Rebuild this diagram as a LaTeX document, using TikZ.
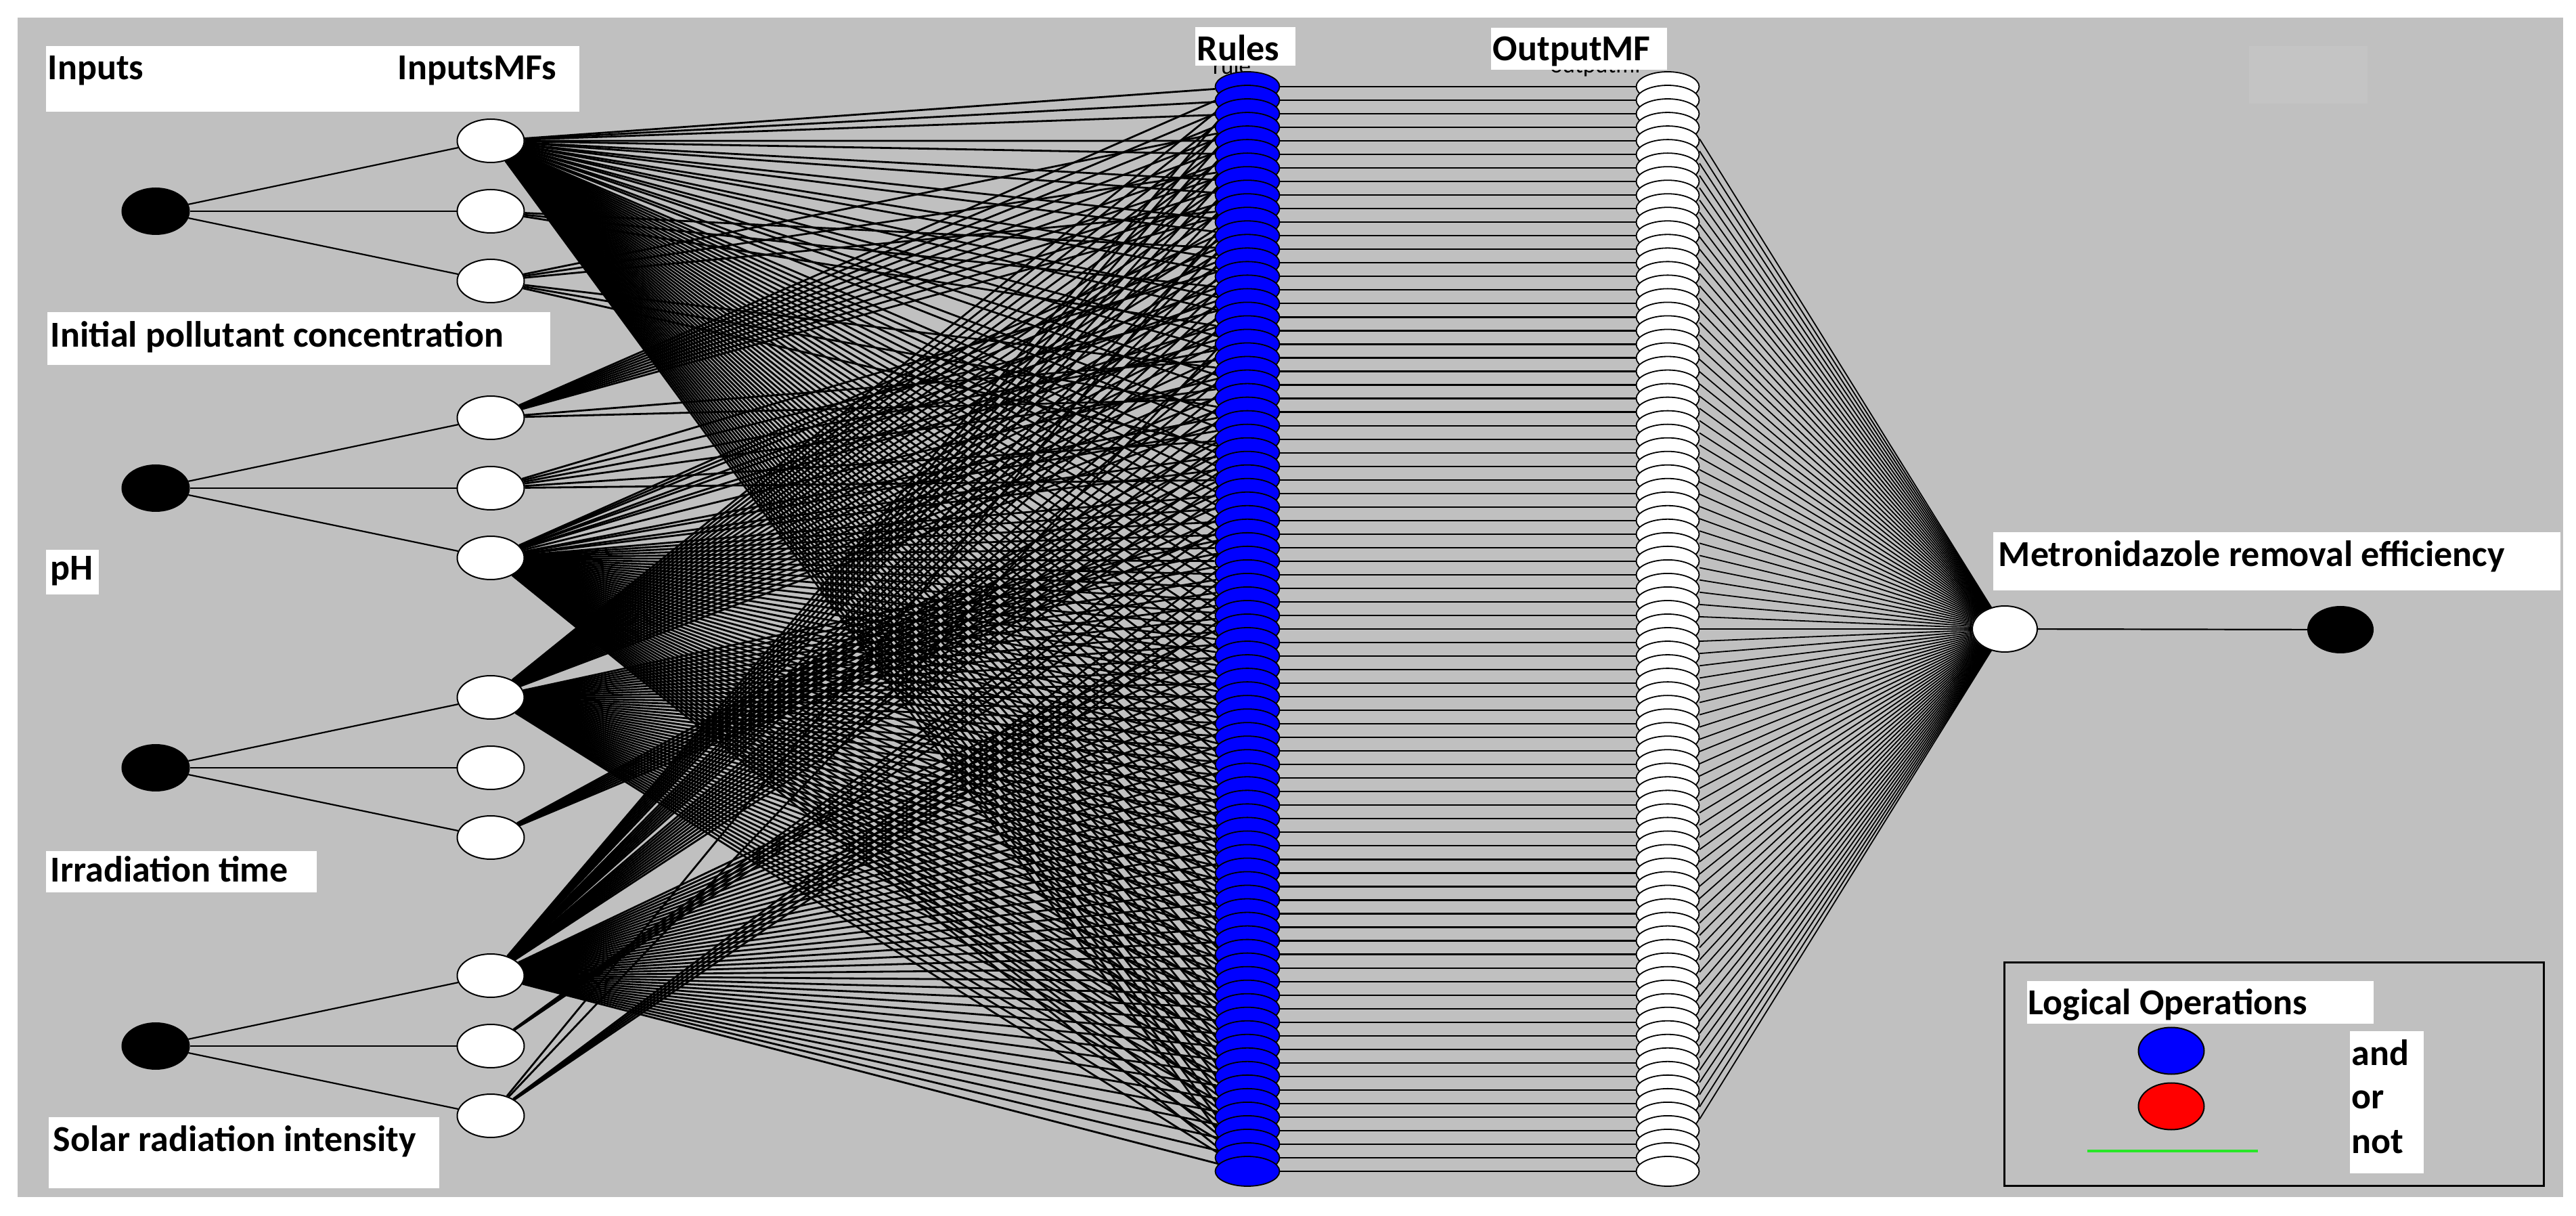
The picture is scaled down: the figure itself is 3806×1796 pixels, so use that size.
\documentclass[tikz,border=0pt]{standalone}
\usepackage{fontspec}
\setmainfont{Carlito}
\usetikzlibrary{shapes.geometric}
\definecolor{bggray}{RGB}{192,192,192}
\definecolor{faintgray}{RGB}{196,196,196}
\definecolor{rulblue}{RGB}{0,0,255}
\definecolor{orred}{RGB}{255,0,0}
\definecolor{notgreen}{RGB}{40,230,40}
\pgfdeclarelayer{back}
\pgfdeclarelayer{edges}
\pgfsetlayers{back,edges,main}
\begin{document}
\begin{tikzpicture}[x=0.25pt,y=-0.25pt,
  edge/.style={draw=black,line width=0.55pt},
  tangle/.style={draw=black,line width=0.7pt},
  innode/.style={ellipse,draw=black,fill=black,line width=0.5pt,minimum width=24.75pt,minimum height=17pt,inner sep=0pt},
  mfnode/.style={ellipse,draw=black,fill=white,line width=0.5pt,minimum width=24.75pt,minimum height=16pt,inner sep=0pt},
  rulenode/.style={ellipse,draw=black,fill=rulblue,line width=0.45pt,minimum width=23.75pt,minimum height=11pt,inner sep=0pt},
  omfnode/.style={ellipse,draw=black,fill=white,line width=0.45pt,minimum width=23.25pt,minimum height=11pt,inner sep=0pt},
  lbl/.style={anchor=base west,inner sep=0pt,font=\fontsize{13.5}{16}\selectfont\bfseries},
  frag/.style={anchor=base,inner sep=0pt,font=\fontsize{8.75}{10}\selectfont}
]
\useasboundingbox (0,0) rectangle (3806,1796);
\begin{pgfonlayer}{back}
\fill[white] (0,0) rectangle (3806,1796);
\fill[bggray] (26,26) rectangle (3787,1768);
\fill[faintgray] (3323,68) rectangle (3498,153);
\end{pgfonlayer}

% ---------- input nodes and MFs ----------
\foreach \i/\c in {1/312,2/721,3/1134,4/1545}{
  \node[innode] (in\i) at (230,\c) {};
  \node[mfnode] (m\i1) at (725,\c-104) {};
  \node[mfnode] (m\i2) at (725,\c) {};
  \node[mfnode] (m\i3) at (725,\c+103) {};
}
% ---------- rule stack ----------
\foreach \k in {0,...,80}{
  \node[rulenode] (r\k) at (1843,{128+20.025*\k}) {};
}
% ---------- output MF stack ----------
\foreach \k in {0,...,80}{
  \node[omfnode] (o\k) at (2464,{128+20.025*\k}) {};
  \coordinate (p\k) at (2511,{205+18.1*\k});
}
\node[innode,fill=white,minimum width=24pt] (out) at (2962,929) {};
\node[innode,minimum width=24pt] (fin) at (3458,930) {};

% ---------- connectors ----------
\begin{pgfonlayer}{edges}
\foreach \i in {1,2,3,4}{
  \foreach \j in {1,2,3}{ \draw[edge] (in\i) -- (m\i\j); }
}
% input 1
\foreach \k in {0,1,2,4,5,7,8,10,11,13,14,16,17,19,20,22,23,25,26}{\draw[tangle] (m11) -- (r\k);}
\foreach \k in {28,...,80}{\draw[tangle] (m11) -- (r\k);}
\foreach \k in {12,15,18}{\draw[tangle] (m12) -- (r\k);}
\foreach \k in {3,6,9,21,24,27}{\draw[tangle] (m13) -- (r\k);}
% input 2
\foreach \k in {0,...,9}{\draw[tangle] (m21) -- (r\k);}
\foreach \k in {20,23}{\draw[tangle] (m21) -- (r\k);}
\foreach \k in {13,16,19,22,26,29}{\draw[tangle] (m22) -- (r\k);}
\foreach \k in {10,11,12,14,15,17,18,21,24,25,27,28}{\draw[tangle] (m23) -- (r\k);}
\foreach \k in {30,...,80}{\draw[tangle] (m23) -- (r\k);}
% input 3
\foreach \k in {0,...,24}{\draw[tangle] (m31) -- (r\k);}
\foreach \k in {33,...,80}{\draw[tangle] (m31) -- (r\k);}
\foreach \k in {25,...,32}{\draw[tangle] (m33) -- (r\k);}
% input 4
\foreach \k in {0,...,7}{\draw[tangle] (m41) -- (r\k);}
\foreach \k in {9,...,16}{\draw[tangle] (m41) -- (r\k);}
\foreach \k in {18,...,29}{\draw[tangle] (m41) -- (r\k);}
\foreach \k in {39,...,80}{\draw[tangle] (m41) -- (r\k);}
\foreach \k in {30,31,32,33}{\draw[tangle] (m42) -- (r\k);}
\foreach \k in {8,17,34,35,36,37,38}{\draw[tangle] (m43) -- (r\k);}
% rules to output MFs, output MFs to output
\foreach \k in {0,...,80}{
  \draw[edge] (r\k) -- (o\k);
  \draw[edge,line width=0.45pt] (p\k) -- (out);
}
\draw[edge] (out) -- (fin);
% clipped captions behind the label boxes
\node[frag] (fragrule) at (1820,110) {rule};
\node[frag] (fragomf) at (2358,108) {outputmf};
\end{pgfonlayer}

% ---------- label boxes ----------
\fill[white] (68,68) rectangle (856,165);
\node[lbl] (tinputs) at (70,118) {Inputs};
\node[lbl] (tinmfs) at (587,118) {InputsMFs};
\fill[white] (70,461) rectangle (813,539);
\node[lbl] (tin1) at (74,513) {Initial pollutant concentration};
\fill[white] (68,812) rectangle (146,878);
\node[lbl] (tin2) at (74,857) {pH};
\fill[white] (68,1257) rectangle (468,1318);
\node[lbl] (tin3) at (74,1303) {Irradiation time};
\fill[white] (72,1650) rectangle (649,1755);
\node[lbl] (tin4) at (78,1700) {Solar radiation intensity};
\fill[white] (1766,40) rectangle (1914,97);
\node[lbl] (trules) at (1768,90) {Rules};
\fill[white] (2203,41) rectangle (2463,103);
\node[lbl] (toutmf) at (2205,90) {OutputMF};
\fill[white] (2945,786) rectangle (3783,872);
\node[lbl] (tout) at (2952,837) {Metronidazole removal efficiency};

% ---------- legend ----------
\draw[black,line width=0.75pt] (2961,1422) rectangle (3758,1751);
\fill[white] (2995,1449) rectangle (3507,1512);
\node[lbl] (tlog) at (2996,1498) {Logical Operations};
\node[innode,fill=rulblue,minimum width=24.25pt,minimum height=17.25pt] (andnode) at (3208,1552) {};
\node[innode,fill=orred,minimum width=24.25pt,minimum height=17.25pt] (ornode) at (3208,1634) {};
\coordinate (notL) at (3084,1700);
\coordinate (notR) at (3336,1700);
\draw[notgreen,line width=1pt] (notL) -- (notR);
\fill[white] (3472,1523) rectangle (3581,1733);
\node[lbl] (tand) at (3474,1573) {and};
\node[lbl] (tor) at (3474,1638) {or};
\node[lbl] (tnot) at (3474,1703) {not};
\end{tikzpicture}
\end{document}
